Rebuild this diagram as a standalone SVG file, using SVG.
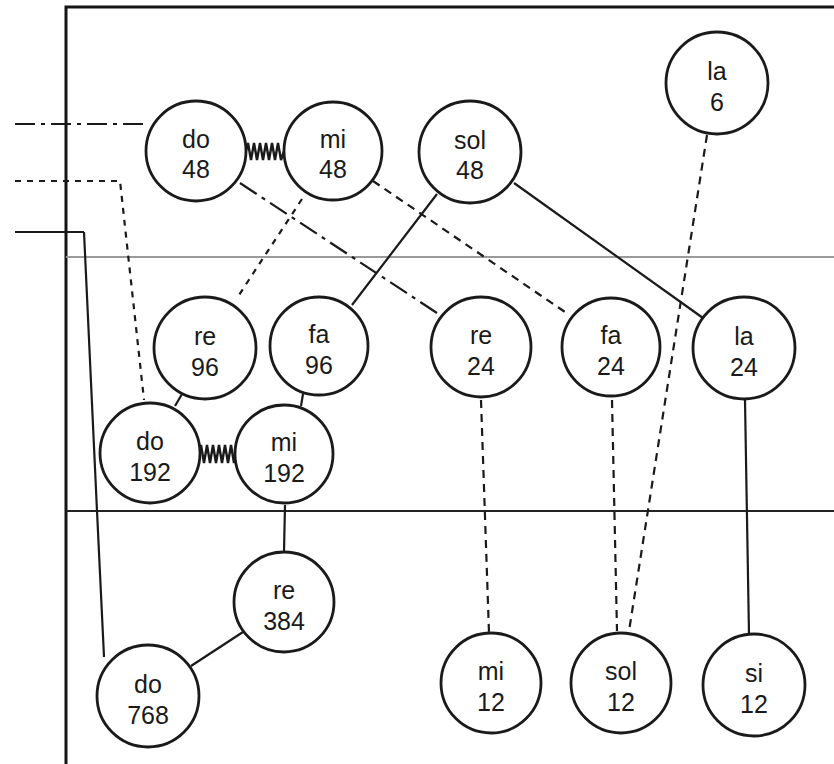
<svg xmlns="http://www.w3.org/2000/svg" width="834" height="764" viewBox="0 0 834 764">
  <style>
    .node circle { fill: #ffffff; stroke: #1a1a1a; stroke-width: 2.8; }
    .node text { font-family: "Liberation Sans", Arial, sans-serif; font-size: 25px; fill: #1a1a1a; text-anchor: middle; }
    .frame { fill: none; stroke: #141414; stroke-width: 3; }
    .rule { fill: none; stroke: #222; stroke-width: 2; }
    .rule-light { fill: none; stroke: #9a9a9a; stroke-width: 2; }
    .edge { fill: none; stroke: #1a1a1a; stroke-width: 2.2; }
    .dashed { stroke-dasharray: 8 6; }
    .dotted { stroke-dasharray: 6 6; }
    .dashdot { stroke-dasharray: 20 6 4 6; }
    .spring { fill: none; stroke: #1a1a1a; stroke-width: 2.4; stroke-linejoin: miter; }
  </style>

  <rect width="834" height="764" fill="#ffffff"/>

  <!-- frame and horizontal divisions -->
  <g id="frame">
    <path class="frame" d="M66,764 V7 H834"/>
    <line class="rule-light" x1="66" y1="257" x2="834" y2="257"/>
    <line class="rule" x1="66" y1="511" x2="834" y2="511"/>
  </g>

  <!-- connectors -->
  <g id="connectors">
    <!-- incoming lines from the left -->
    <path class="edge dashdot" d="M15,124 H146"/>
    <path class="edge dotted" d="M15,181 H120 L144,400"/>
    <path class="edge" stroke-width="3" d="M15,232 H84"/>
    <path class="edge" d="M84,232 L97,511 L104,657"/>

    <!-- springs -->
    <polyline class="spring" points="246,151 248,143 251,160 254,143 257,160 260,143 263,160 266,143 269,160 272,143 275,160 278,143 281,160 284,151"/>
    <polyline class="spring" points="199,454 201,445 204,463 207,445 210,463 213,445 216,463 219,445 222,463 225,445 228,463 231,445 234,463 236,454"/>

    <!-- top row to middle row -->
    <line class="edge dashdot" x1="240" y1="183" x2="440" y2="315"/>
    <line class="edge dashed" x1="373" y1="181" x2="565" y2="312"/>
    <line class="edge dotted" x1="302" y1="199" x2="237" y2="298"/>
    <line class="edge" x1="437" y1="194" x2="352" y2="305"/>
    <line class="edge" x1="514" y1="183" x2="703" y2="318"/>
    <line class="edge dashed" x1="707" y1="135" x2="629" y2="631"/>

    <!-- middle row to bottom row -->
    <line class="edge dashed" x1="612" y1="400" x2="617" y2="631"/>
    <line class="edge dashed" x1="481" y1="400" x2="489" y2="633"/>
    <line class="edge" x1="745" y1="400" x2="749" y2="635"/>

    <!-- short links within the middle row -->
    <line class="edge" x1="182" y1="394" x2="175" y2="406"/>
    <line class="edge" x1="303" y1="394" x2="301" y2="406"/>

    <!-- lower cluster -->
    <line class="edge" x1="285" y1="505" x2="284" y2="552"/>
    <line class="edge" x1="243" y1="632" x2="191" y2="666"/>
  </g>

  <!-- nodes -->
  <g id="do48" class="node"><circle cx="196" cy="151" r="50"/><text x="196" y="148">do</text><text x="196" y="178">48</text></g>
  <g id="mi48" class="node"><circle cx="333" cy="151" r="49"/><text x="333" y="148">mi</text><text x="333" y="178">48</text></g>
  <g id="sol48" class="node"><circle cx="470" cy="152" r="51"/><text x="470" y="149">sol</text><text x="470" y="179">48</text></g>
  <g id="la6" class="node"><circle cx="717" cy="83" r="51"/><text x="717" y="80">la</text><text x="717" y="111">6</text></g>

  <g id="re96" class="node"><circle cx="205" cy="348" r="51"/><text x="205" y="345">re</text><text x="205" y="376">96</text></g>
  <g id="fa96" class="node"><circle cx="319" cy="346" r="49"/><text x="319" y="343">fa</text><text x="319" y="374">96</text></g>
  <g id="re24" class="node"><circle cx="481" cy="347" r="50"/><text x="481" y="344">re</text><text x="481" y="375">24</text></g>
  <g id="fa24" class="node"><circle cx="611" cy="347" r="49"/><text x="611" y="344">fa</text><text x="611" y="375">24</text></g>
  <g id="la24" class="node"><circle cx="744" cy="348" r="51"/><text x="744" y="345">la</text><text x="744" y="376">24</text></g>

  <g id="do192" class="node"><circle cx="150" cy="453" r="50"/><text x="150" y="450">do</text><text x="150" y="481">192</text></g>
  <g id="mi192" class="node"><circle cx="284" cy="454" r="49"/><text x="284" y="451">mi</text><text x="284" y="482">192</text></g>

  <g id="re384" class="node"><circle cx="284" cy="602" r="50"/><text x="284" y="599">re</text><text x="284" y="630">384</text></g>
  <g id="do768" class="node"><circle cx="148" cy="696" r="51"/><text x="148" y="693">do</text><text x="148" y="724">768</text></g>

  <g id="mi12" class="node"><circle cx="491" cy="683" r="50"/><text x="491" y="680">mi</text><text x="491" y="711">12</text></g>
  <g id="sol12" class="node"><circle cx="621" cy="683" r="50"/><text x="621" y="680">sol</text><text x="621" y="711">12</text></g>
  <g id="si12" class="node"><circle cx="754" cy="685" r="51"/><text x="754" y="682">si</text><text x="754" y="713">12</text></g>
</svg>
